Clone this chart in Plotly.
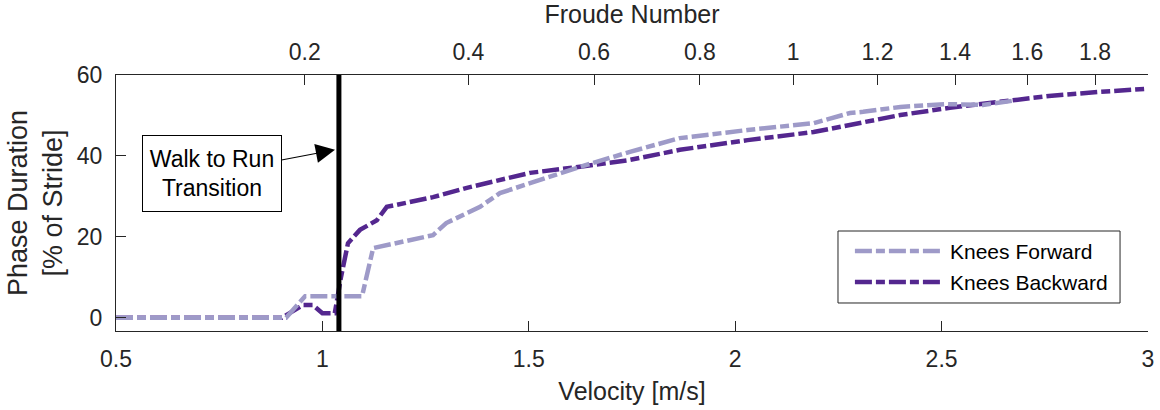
import numpy as np
import plotly.graph_objects as go

# ---------------- data ----------------
fwd_v = [0.5, 0.912, 0.958, 1.096, 1.123, 1.268, 1.30, 1.382, 1.43, 1.503, 1.624,
         1.745, 1.866, 2.03, 2.19, 2.278, 2.31, 2.40, 2.51, 2.60, 2.67]
fwd_y = [0.0, 0.0, 5.3, 5.3, 17.2, 20.4, 23.4, 27.4, 30.8, 33.3, 37.3,
         41.0, 44.4, 46.4, 48.1, 50.6, 50.9, 52.1, 52.8, 52.6, 53.6]

bwd_v = [0.5, 0.902, 0.953, 0.977, 1.00, 1.03, 1.045, 1.062, 1.091, 1.132, 1.156,
         1.268, 1.35, 1.43, 1.503, 1.624, 1.745, 1.866, 2.03, 2.19, 2.35, 2.40,
         2.52, 2.64, 2.76, 2.88, 3.0]
bwd_y = [0.0, 0.0, 3.1, 3.1, 1.1, 1.1, 10.0, 18.4, 21.7, 24.1, 27.4,
         29.8, 32.1, 34.0, 35.8, 37.3, 39.0, 41.5, 43.9, 45.9, 48.9, 50.1,
         51.9, 53.3, 54.8, 55.8, 56.6]

series_names = ["Knees Forward", "Knees Backward"]
series_colors = ["#9e9ac8", "#54278f"]

velocity_ticks = [0.5, 1, 1.5, 2, 2.5, 3]
phase_ticks = [0, 20, 40, 60]
froude_ticks = [0.2, 0.4, 0.6, 0.8, 1, 1.2, 1.4, 1.6, 1.8]
froude_labels = ["0.2", "0.4", "0.6", "0.8", "1", "1.2", "1.4", "1.6", "1.8"]

transition_v = 1.04
g = 9.81
leg_length = 0.467  # m, Froude = v^2 / (g L)

# ---------------- style ----------------
FONT = "Liberation Sans, Arial, Helvetica, sans-serif"
AX = "#262626"
DASH = "17px,4px,9px,4px"
LW = 4.5

froude_pos = [float(np.sqrt(f * g * leg_length)) for f in froude_ticks]

fig = go.Figure()

# draw Backward first so Forward sits on top (as in reference)
fig.add_trace(go.Scatter(x=bwd_v, y=bwd_y, mode="lines", name=series_names[1],
                         line=dict(color=series_colors[1], width=LW, dash=DASH),
                         showlegend=False))
fig.add_trace(go.Scatter(x=fwd_v, y=fwd_y, mode="lines", name=series_names[0],
                         line=dict(color=series_colors[0], width=LW, dash=DASH),
                         showlegend=False))
# invisible trace to anchor the top (Froude) axis
fig.add_trace(go.Scatter(x=[velocity_ticks[0], velocity_ticks[-1]], y=[None, None],
                         xaxis="x2", yaxis="y", mode="lines", showlegend=False,
                         hoverinfo="skip"))

# walk-to-run transition line
fig.add_shape(type="line", xref="x", yref="y domain", x0=transition_v, x1=transition_v,
              y0=0, y1=1, line=dict(color="black", width=5))

# annotation with arrow
fig.add_annotation(x=1.0305, y=41.5, xref="x", yref="y",
                   ax=0.7326, ay=35.7, axref="x", ayref="y",
                   text="Walk to Run<br>Transition", showarrow=True,
                   arrowhead=2, arrowsize=3.2, arrowwidth=1.2, arrowcolor="black",
                   standoff=0, startstandoff=0,
                   font=dict(family=FONT, size=23, color="black"),
                   bgcolor="white", bordercolor="black", borderwidth=1,
                   borderpad=1, width=136, height=73, align="center")

# manual legend (box, samples, labels)
L_X0, L_X1, L_Y0, L_Y1 = 0.6996, 0.9729, 0.1094, 0.3906
fig.add_shape(type="rect", xref="x domain", yref="y domain",
              x0=L_X0, x1=L_X1, y0=L_Y0, y1=L_Y1,
              line=dict(color=AX, width=1), fillcolor="white", layer="above")
legend_rows = [0.3125, 0.1914]
for name, col, yy in zip(series_names, series_colors, legend_rows):
    fig.add_shape(type="line", xref="x domain", yref="y domain",
                  x0=0.716, x1=0.7984, y0=yy, y1=yy, layer="above",
                  line=dict(color=col, width=LW, dash=DASH))
    fig.add_annotation(x=0.806, y=yy, xref="x domain", yref="y domain",
                       text=name, showarrow=False, xanchor="left", yanchor="middle",
                       font=dict(family=FONT, size=21, color="black"))

tickfont = dict(family=FONT, size=23, color=AX)
titlefont = dict(family=FONT, size=25, color=AX)

fig.update_layout(
    width=1160, height=410, autosize=False,
    margin=dict(l=116, r=12, t=75, b=79, pad=0),
    paper_bgcolor="white", plot_bgcolor="white",
    font=dict(family=FONT, color=AX),
    showlegend=False,
    xaxis=dict(range=[0.5, 3], tickvals=velocity_ticks,
               ticktext=[str(t) for t in velocity_ticks],
               ticks="inside", ticklen=10, tickcolor=AX, tickwidth=1,
               showline=True, linecolor=AX, linewidth=1, mirror=False,
               showgrid=False, zeroline=False, tickfont=tickfont,
               ticklabelstandoff=7, automargin=False,
               title=dict(text="Velocity [m/s]", font=titlefont, standoff=11)),
    xaxis2=dict(range=[0.5, 3], overlaying="x", side="top", anchor="y",
                tickvals=froude_pos, ticktext=froude_labels,
                ticks="inside", ticklen=10, tickcolor=AX, tickwidth=1,
                showline=True, linecolor=AX, linewidth=1,
                showgrid=False, zeroline=False, tickfont=tickfont,
                ticklabelstandoff=5, automargin=False,
                title=dict(text="Froude Number", font=titlefont, standoff=8)),
    yaxis=dict(range=[-3.3, 60], tickvals=phase_ticks,
               ticks="inside", ticklen=10, tickcolor=AX, tickwidth=1,
               showline=True, linecolor=AX, linewidth=1, mirror=False,
               showgrid=False, zeroline=False, tickfont=tickfont,
               ticklabelstandoff=8, automargin=False,
               title=dict(text="Phase Duration<br>[% of Stride]",
                          font=dict(family=FONT, size=27, color=AX),
                          standoff=6)),
)

fig.write_html("out.html")
